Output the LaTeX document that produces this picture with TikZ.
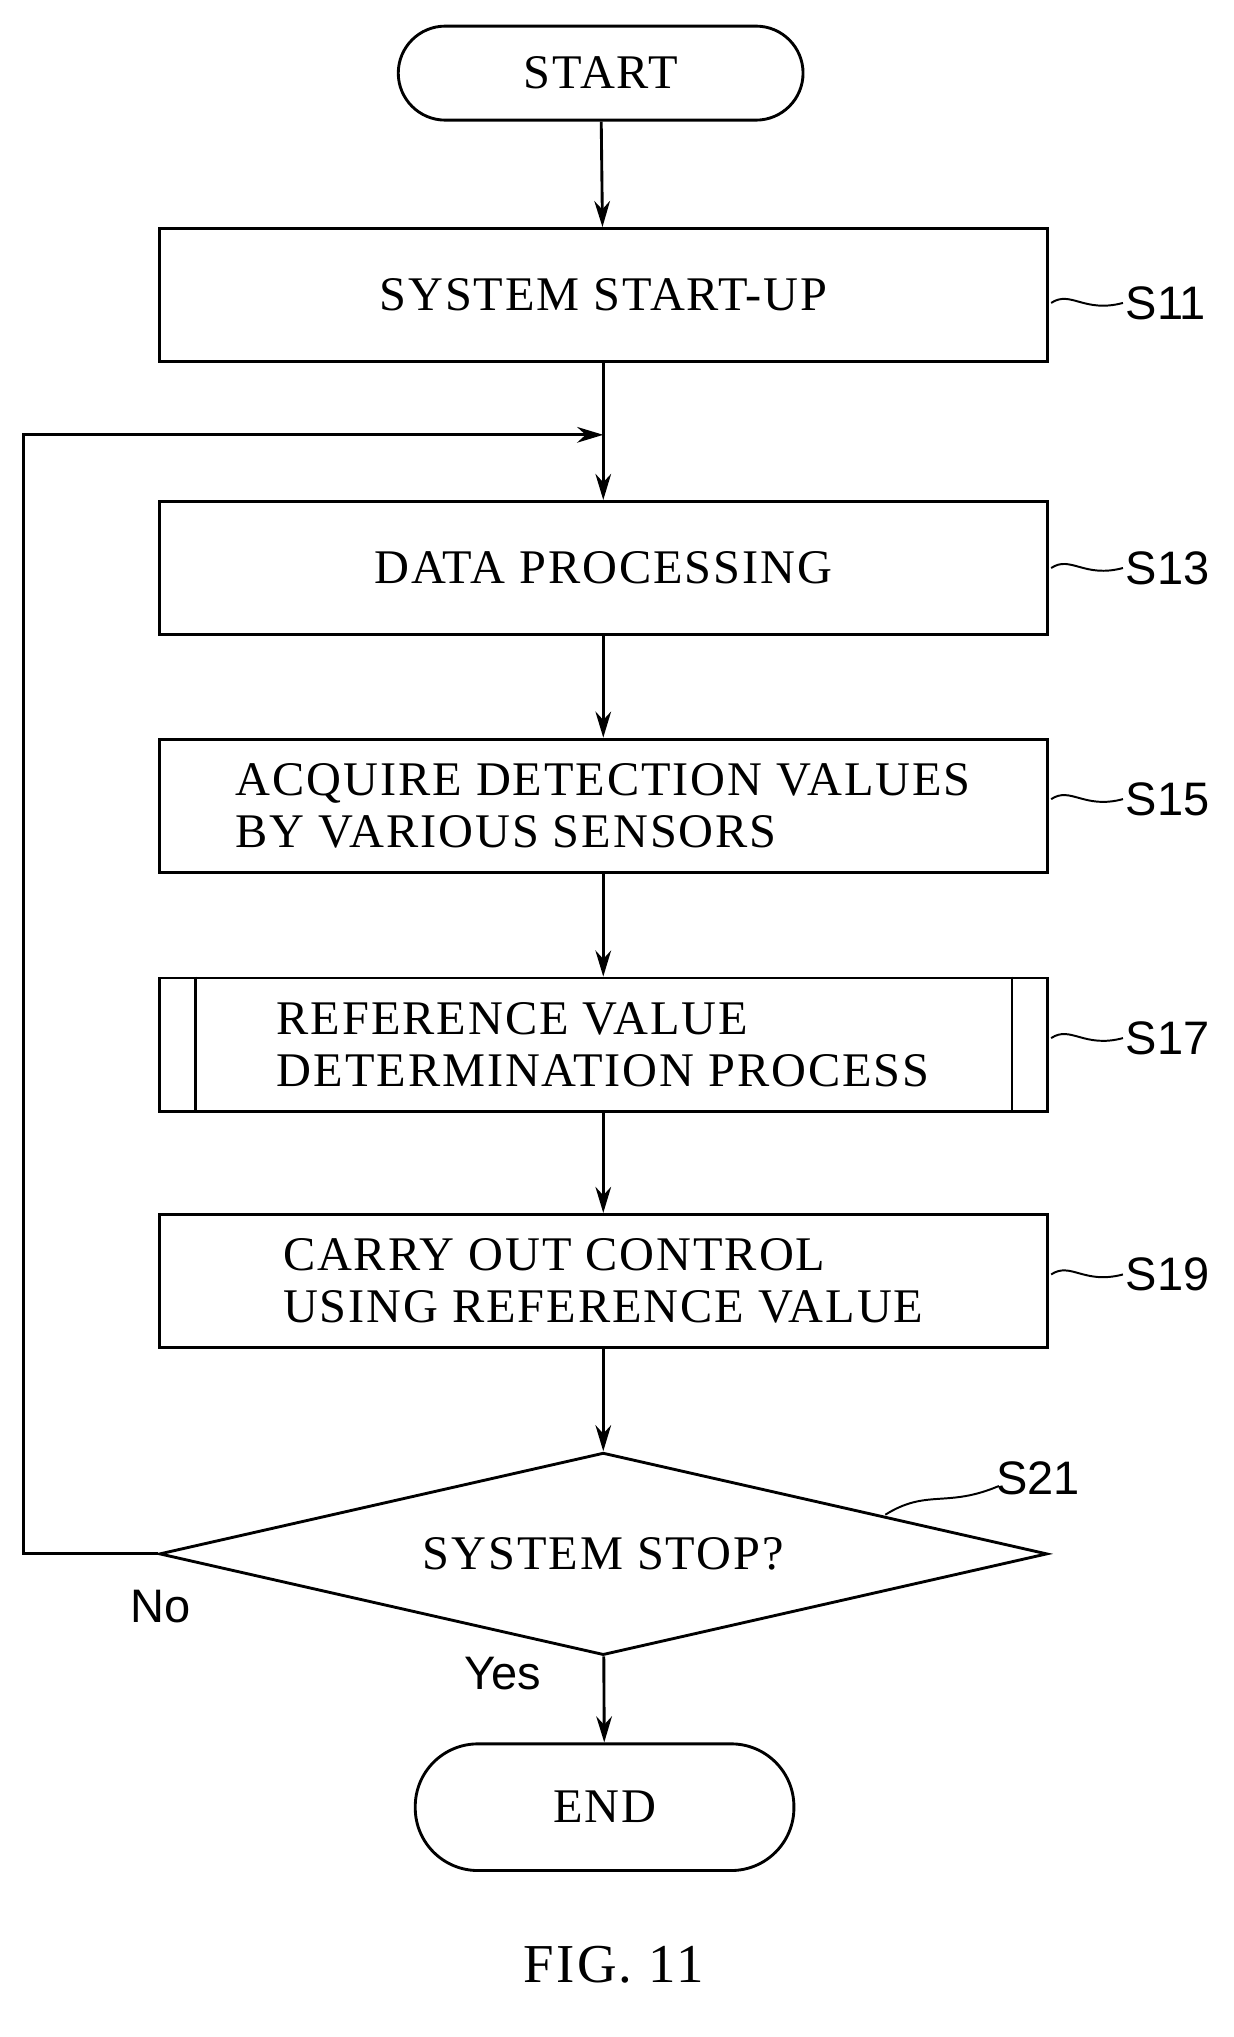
\documentclass[tikz,border=0pt]{standalone}
\usepackage{fontspec}
\setmainfont{Liberation Serif}[LetterSpace=4]
\newfontfamily\lab{Liberation Sans}
\usetikzlibrary{shapes.geometric,arrows.meta}
\begin{document}
\begin{tikzpicture}[x=1pt,y=-1pt,line width=2.2pt,
  tf/.style={font=\fontsize{37}{40}\selectfont},
  box/.style={draw,minimum width=680pt,minimum height=102pt,tf,align=left},
  pill/.style={draw,rounded corners=36pt,minimum height=72pt,tf},
  sl/.style={font=\lab\fontsize{36}{40}\selectfont},
  arr/.style={-{Stealth[length=20pt,width=12pt]}}]
\useasboundingbox (0,0) rectangle (945,1560);
\node[pill,minimum width=310pt] (start) at (460,56) {START};
\node[box] (s11) at (462,226) {SYSTEM START-UP};
\node[box] (s13) at (462,435) {DATA PROCESSING};
\node[box] (s15) at (462,617) {ACQUIRE DETECTION VALUES\\BY VARIOUS SENSORS};
\node[box] (s17) at (462,800) {REFERENCE VALUE\\DETERMINATION PROCESS};
\draw (150,748) -- (150,852) (775,748) -- (775,852);
\node[box] (s19) at (462,981) {CARRY OUT CONTROL\\USING REFERENCE VALUE};
\node[draw,diamond,minimum width=680pt,minimum height=155pt,aspect=4.4,inner sep=0pt,tf] (s21) at (462,1190) {SYSTEM STOP?};
\node[pill,minimum width=290pt,minimum height=97pt,rounded corners=48pt] (end) at (463,1384) {END};
\coordinate (m) at (462,333);
\draw[arr] (start) -- (s11);
\draw (s11) -- (m);
\draw[arr] (m) -- (s13);
\draw[arr] (s13) -- (s15);
\draw[arr] (s15) -- (s17);
\draw[arr] (s17) -- (s19);
\draw[arr] (s19) -- (s21);
\draw[arr] (s21) -- (end);
\draw[arr] (s21.west) -- (18,1190) -- (18,333) -- (m);
\node[sl] at (123,1230) {No};
\node[sl] at (385,1282) {Yes};
\foreach \y/\t in {232/S11,435/S13,612/S15,795/S17,976/S19}{
  \draw[line width=1.5pt] (805,\y) .. controls (820,\y-10) and (830,\y+8) .. (860,\y);
  \node[sl,anchor=west,inner sep=1pt] at (860,\y) {\t};}
\draw[line width=1.5pt] (678,1160) .. controls (710,1140) and (725,1155) .. (765,1138);
\node[sl] at (795,1132) {S21};
\node[font=\fontsize{42}{46}\selectfont] (fig) at (470,1505) {FIG. 11};
\end{tikzpicture}
\end{document}
